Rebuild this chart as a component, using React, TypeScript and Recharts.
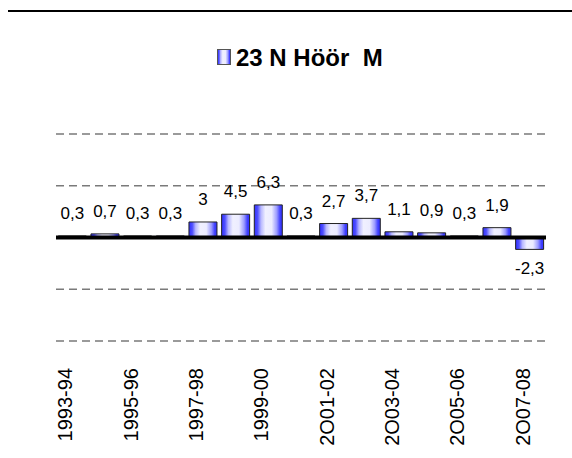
import {
  Bar,
  BarChart,
  CartesianGrid,
  LabelList,
  ReferenceLine,
  XAxis,
  YAxis,
} from "recharts"

const seasons = [
  "1993-94",
  "1994-95",
  "1995-96",
  "1996-97",
  "1997-98",
  "1998-99",
  "1999-00",
  "2000-01",
  "2O01-02",
  "2002-03",
  "2O03-04",
  "2004-05",
  "2O05-06",
  "2006-07",
  "2O07-08",
]
const values = [0.3, 0.7, 0.3, 0.3, 3, 4.5, 6.3, 0.3, 2.7, 3.7, 1.1, 0.9, 0.3, 1.9, -2.3]
const yTicks = [-20, -10, 0, 10, 20]
const seriesName = "23 N Höör  M"

const data = seasons.map((season, i) => ({ season, value: values[i] }))

const font = "'Liberation Sans', Arial, sans-serif"

const SeasonTick = ({ x, y, payload }: any) => (
  <text
    x={x}
    y={y}
    transform={`rotate(-90 ${x} ${y})`}
    textAnchor="end"
    fontSize={20}
    fontFamily={font}
    fill="#000"
  >
    {payload.value}
  </text>
)

const ValueLabel = ({ x, y, width, height, value }: any) => {
  const top = Math.min(y, y + height)
  const bottom = Math.max(y, y + height)
  const ty = value >= 0 ? top - 17 : bottom + 25
  return (
    <text
      x={x + width / 2}
      y={ty}
      textAnchor="middle"
      fontSize={17}
      fontFamily={font}
      fill="#000"
    >
      {String(value).replace(".", ",")}
    </text>
  )
}

const BarGradient = ({ id }: { id: string }) => (
  <linearGradient id={id} x1="0" y1="0" x2="1" y2="0">
    <stop offset="0%" stopColor="#2f2fff" />
    <stop offset="12%" stopColor="#5050ff" />
    <stop offset="24%" stopColor="#b8b8ff" />
    <stop offset="40%" stopColor="#f0f0ff" />
    <stop offset="62%" stopColor="#ececff" />
    <stop offset="80%" stopColor="#9c9cff" />
    <stop offset="92%" stopColor="#4040ff" />
    <stop offset="100%" stopColor="#3030ff" />
  </linearGradient>
)

export default function App() {
  return (
    <div
      style={{
        position: "absolute",
        left: 0,
        top: 0,
        width: 572,
        height: 458,
        background: "#fff",
      }}
    >
      <div
        style={{
          position: "absolute",
          left: 8,
          top: 10,
          width: 564,
          height: 2,
          background: "#000",
        }}
      />
      <svg
        width={200}
        height={32}
        style={{ position: "absolute", left: 217, top: 40 }}
      >
        <defs>
          <BarGradient id="legendFill" />
        </defs>
        <rect
          x={0.5}
          y={9.5}
          width={13}
          height={15}
          fill="url(#legendFill)"
          stroke="#555"
        />
        <text
          x={19}
          y={25.5}
          fontSize={24}
          fontWeight="bold"
          fontFamily={font}
          fill="#000"
          style={{ whiteSpace: "pre" }}
        >
          {seriesName}
        </text>
      </svg>
      <BarChart
        width={572}
        height={458}
        data={data}
        margin={{ top: 134, right: 26, bottom: 0, left: 56 }}
        barCategoryGap="7%"
      >
        <defs>
          <BarGradient id="barFill" />
        </defs>
        <CartesianGrid
          vertical={false}
          stroke="#7a7a7a"
          strokeWidth={1.5}
          strokeDasharray="8 5"
        />
        <XAxis
          dataKey="season"
          height={117}
          interval={1}
          axisLine={false}
          tickLine={false}
          tickSize={0}
          tickMargin={27}
          tick={<SeasonTick />}
        />
        <YAxis hide domain={[-20, 20]} ticks={yTicks} />
        <Bar
          dataKey="value"
          fill="url(#barFill)"
          stroke="#222"
          strokeWidth={1}
          isAnimationActive={false}
        >
          <LabelList dataKey="value" content={<ValueLabel />} />
        </Bar>
        <ReferenceLine y={0} stroke="#000" strokeWidth={4} />
      </BarChart>
    </div>
  )
}
